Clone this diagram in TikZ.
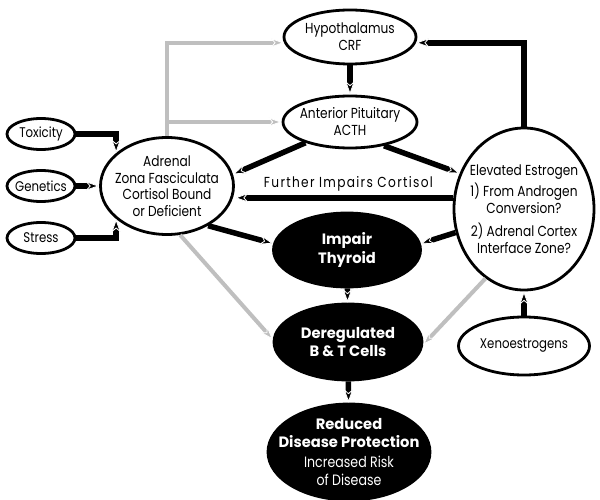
\documentclass[tikz,border=0pt]{standalone}
\usepackage{fontspec}
\setmainfont{Poppins}[FakeStretch=0.84,BoldFeatures={FakeStretch=0.98}]
\usetikzlibrary{arrows.meta,shapes.geometric}

\begin{document}
\begin{tikzpicture}[x=1pt,y=1pt,
  box/.style={draw, ellipse, line width=2.8pt, align=center, inner xsep=-16pt, inner ysep=-6pt, font=\fontsize{14.5}{17}\selectfont},
  dark/.style={box, fill=black, text=white, font=\fontsize{15}{18.5}\selectfont\bfseries},
  blk/.style={line width=5.5pt, -{Stealth[length=14pt, width=10pt, color=white, fill=black, line width=0.8pt]}},
  gry/.style={line width=4pt, draw=black!25, -{Stealth[length=14pt, width=10pt, color=white, fill=black!25, line width=0.8pt]}}]
\useasboundingbox (0,0) rectangle (600,-500);

\node[box, minimum width=132pt, minimum height=54pt] (hyp) at (350,-37) {Hypothalamus\\CRF};
\node[box, minimum width=134pt, minimum height=52pt] (ap) at (350,-122) {Anterior Pituitary\\ACTH};
\node[box, minimum width=133pt, minimum height=97pt, font=\fontsize{14.5}{16.5}\selectfont] (adr) at (167,-186) {Adrenal\\Zona Fasciculata\\Cortisol Bound\\or Deficient};
\node[box, minimum width=68pt, minimum height=31pt, font=\fontsize{14}{16}\selectfont] (tox) at (41,-134) {Toxicity};
\node[box, minimum width=68pt, minimum height=31pt, font=\fontsize{14}{16}\selectfont] (gen) at (41,-186) {Genetics};
\node[box, minimum width=68pt, minimum height=31pt, font=\fontsize{14}{16}\selectfont] (str) at (41,-238) {Stress};
\node[box, minimum width=140pt, minimum height=162pt] (est) at (524,-209) {Elevated Estrogen\\[3pt]1) From Androgen\\Conversion?\\[6pt]2) Adrenal Cortex\\Interface Zone?};
\node[box, minimum width=131pt, minimum height=58pt, font=\fontsize{14}{16}\selectfont] (xeno) at (524,-346) {Xenoestrogens};
\node[dark, minimum width=147pt, minimum height=74pt] (thy) at (347,-250) {Impair\\Thyroid};
\node[dark, minimum width=148pt, minimum height=76pt] (dereg) at (348,-342) {Deregulated\\B \& T Cells};
\node[dark, minimum width=162pt, minimum height=96pt] (red) at (349,-452) {Reduced\\Disease Protection\\[1pt]{\mdseries Increased Risk}\\{\mdseries of Disease}};

% axis
\draw[blk] (hyp) -- (ap);
\draw[blk] (ap.205) -- (adr.10);
\draw[blk] (ap.325) -- (est.151);
\draw[blk] (est.north) |- (hyp.-5);
\draw[blk] (est.171) -- (est.171 -| adr.east) node[pos=0.48, above, font=\fontsize{14.5}{17}\selectfont\addfontfeature{LetterSpace=9}] {Further Impairs Cortisol};
\draw[blk] (xeno) -- (est);

% causes
\draw[blk] (tox.east) -| (adr.147);
\draw[blk] (gen) -- (adr);
\draw[blk] (str.east) -| (adr.213);

% thyroid and cells
\draw[blk] (adr.316) -- (thy.175);
\draw[blk] (est.199) -- (thy.5);
\draw[blk] (thy) -- (dereg);
\draw[blk] (dereg) -- (red);

% gray links
\draw[gry] (adr.north) |- (hyp.185);
\draw[gry] (adr.north) |- (ap.west);
\draw[gry] (adr.285) -- (dereg.178);
\draw[gry] (est.241) -- (dereg.358);
\end{tikzpicture}
\end{document}
